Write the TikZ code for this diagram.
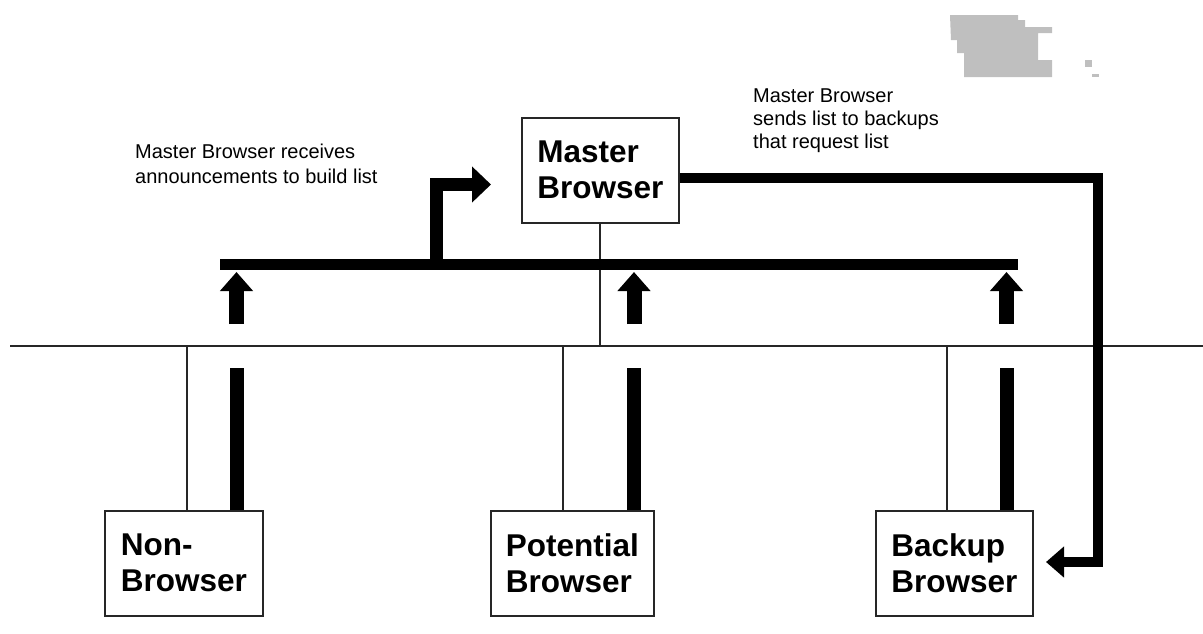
\documentclass[tikz,border=0pt]{standalone}
\usepackage{fontspec}
\setmainfont{Liberation Sans}
\usetikzlibrary{arrows.meta}
\tikzset{
  box/.style={draw=black!85, line width=1.6pt, anchor=north west, inner sep=0pt,
    minimum height=105, align=left,
    font=\bfseries\fontsize{31.5}{36}\selectfont},
  note/.style={anchor=base west, inner sep=0pt, align=left},
  thin/.style={draw=black!85, line width=1.8pt},
  bus/.style={line width=11pt, line cap=butt},
  flow/.style={line width=10pt, line join=miter, line cap=butt,
    -{Triangle[length=18pt, width=30pt]}},
  bent/.style={line width=13pt, line join=miter, line cap=butt,
    -{Triangle[length=19pt, width=35pt]}},
  upflow/.style={line width=15pt, line cap=butt,
    -{Triangle[length=19pt, width=32pt]}},
  feed/.style={line width=14pt, line cap=butt},
  smudge/.style={fill=gray!50, draw=none}
}
\begin{document}
\begin{tikzpicture}[x=1pt, y=-1pt]
  \useasboundingbox (0,0) rectangle (1203,633);

  % scanner smudge in the top right corner
  \fill[smudge] (950,15) -- (1018,15) -- (1018,20) -- (1025,20) -- (1025,27)
    -- (1052,27) -- (1052,33) -- (1038,33) -- (1038,60) -- (1052,60)
    -- (1052,77) -- (964,77) -- (964,53) -- (957,53) -- (957,40)
    -- (951,40) -- cycle;
  \fill[smudge] (1085,60) rectangle (1092,67);
  \fill[smudge] (1092,74) rectangle (1099,77);

  % browsers
  \node[box, minimum width=157] (mb) at (521,117) {Master\\Browser};
  \node[box, minimum width=158] (nb) at (104,510) {Non-\\Browser};
  \node[box, minimum width=163] (pb) at (490,510) {Potential\\Browser};
  \node[box, minimum width=157] (bb) at (875,510) {Backup\\Browser};

  % network cable
  \coordinate (netL) at (10,346);
  \coordinate (netR) at (1203,346);
  \draw[thin] (netL) -- (netR);

  % taps from each computer to the cable
  \draw[thin] (mb.south) -- (mb.south |- netL);
  \draw[thin] (nb.north west) ++(83,0) coordinate (nbTap) -- (nbTap |- netL);
  \draw[thin] (pb.north west) ++(73,0) coordinate (pbTap) -- (pbTap |- netL);
  \draw[thin] (bb.north west) ++(72,0) coordinate (bbTap) -- (bbTap |- netL);

  % announcements collected on the logical bus
  \coordinate (busL) at (220,264);
  \coordinate (busR) at (1018,264);
  \coordinate (busJ) at (436.5,264);
  \draw[bus] (busL) -- (busR);

  % announcement arrows
  \coordinate (nbA) at (236.5,510);
  \coordinate (pbA) at (634,510);
  \coordinate (bbA) at (1006.5,510);
  \foreach \c in {nbA,pbA,bbA}{
    \draw[feed] (\c) -- (\c |- 0,368);
    \draw[upflow] (\c |- 0,324) -- (\c |- 0,272);
  }

  % bus into the master browser
  \coordinate (mbIn) at (491,184.5);
  \draw[bent] (busJ) |- (mbIn);

  % list sent back to the backup browser
  \coordinate (turn) at (1098,178);
  \coordinate (bbIn) at (1046,562);
  \draw[flow] (mb.east |- turn) -- (turn) |- (bbIn);

  % notes (anchored at the baseline of their last line)
  \node[note, font=\fontsize{20}{25}\selectfont] (n1) at (135,183)
    {Master Browser receives\\announcements to build list};
  \node[note, font=\fontsize{20}{23}\selectfont] (n2) at (753,148)
    {Master Browser\\sends list to backups\\that request list};
\end{tikzpicture}
\end{document}
